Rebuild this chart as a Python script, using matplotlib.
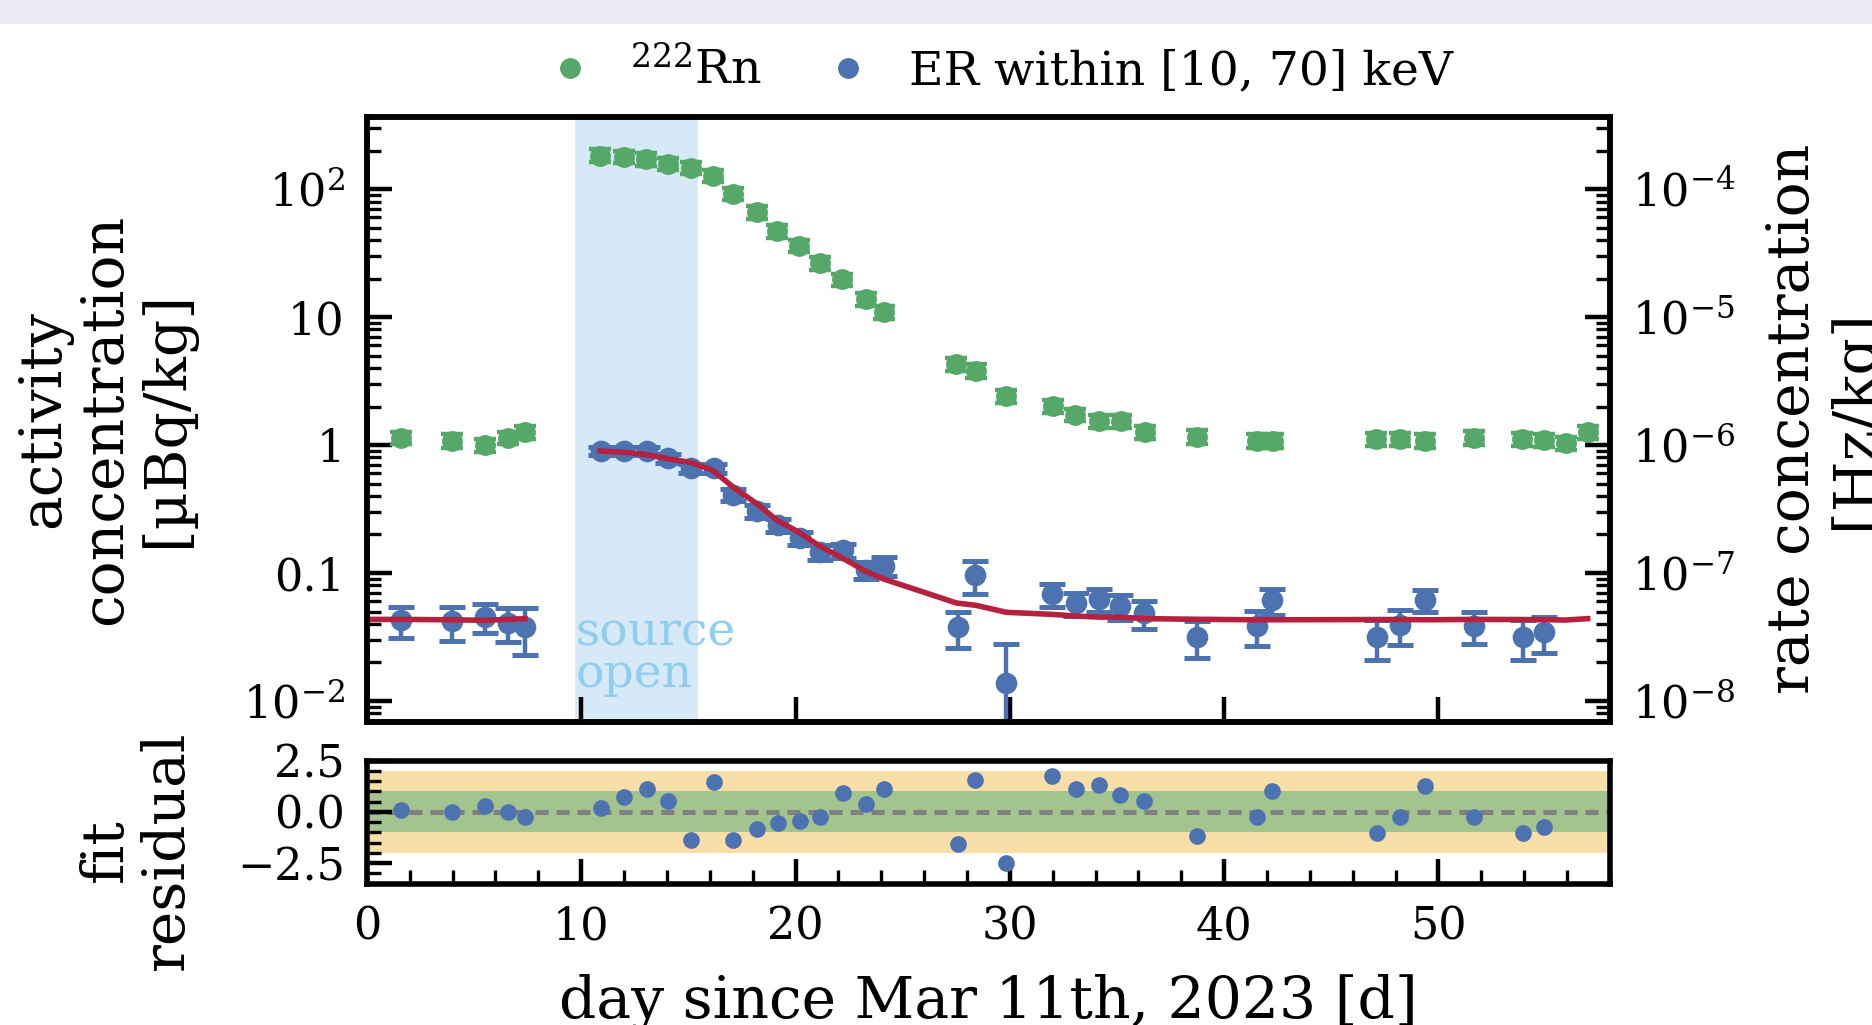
import matplotlib
matplotlib.use("Agg")
import numpy as np
import matplotlib.pyplot as plt
import matplotlib.transforms as mtransforms
from matplotlib.ticker import (FixedLocator, FixedFormatter, LogLocator, NullFormatter,
                               MultipleLocator, NullLocator)
from matplotlib.lines import Line2D
from matplotlib.patches import Rectangle

plt.rcParams['font.family'] = ['DejaVu Serif']
plt.rcParams['mathtext.fontset'] = 'dejavuserif'

# ---------------- data ----------------
rn_day = [1.61, 3.98, 5.50, 6.58, 7.38,
          10.88, 12.01, 13.03, 14.05, 15.14, 16.13, 17.10, 18.19, 19.14, 20.16, 21.13, 22.19, 23.28, 24.12,
          27.51, 28.42, 29.84,
          32.00, 33.06, 34.17, 35.18, 36.29,
          38.73,
          41.55, 42.29,
          47.08, 48.19, 49.39,
          51.64,
          53.91, 54.93, 55.94, 56.96]
rn_val = [1.14, 1.08, 1.00, 1.14, 1.27,
          183, 179, 171, 158, 147, 127, 91.6, 65.9, 46.8, 36.2, 26.4, 19.7, 13.9, 11.0,
          4.31, 3.81, 2.40,
          2.02, 1.73, 1.53, 1.53, 1.27,
          1.16,
          1.08, 1.08,
          1.12, 1.12, 1.08,
          1.14,
          1.12, 1.10, 1.04, 1.27]
rn_err = [0.13, 0.13, 0.12, 0.13, 0.15,
          21, 20, 19, 17, 16, 14, 10, 7.5, 5.3, 4.1, 3.0, 2.2, 1.6, 1.3,
          0.50, 0.45, 0.28,
          0.24, 0.20, 0.18, 0.18, 0.15,
          0.14,
          0.13, 0.13,
          0.13, 0.13, 0.13,
          0.14,
          0.13, 0.13, 0.12, 0.15]

er_day = [1.61, 3.98, 5.50, 6.58, 7.38,
          10.90, 12.00, 13.05, 14.05, 15.14, 16.20, 17.10, 18.19, 19.16, 20.19, 21.15, 22.22, 23.28, 24.12,
          27.56, 28.37, 29.84,
          31.97, 33.08, 34.16, 35.16, 36.27,
          38.73,
          41.51, 42.22,
          47.11, 48.20, 49.35,
          51.64,
          53.93, 54.93]
er_val = [0.0426, 0.0419, 0.0457, 0.0410, 0.0380,
          0.903, 0.903, 0.903, 0.790, 0.659, 0.659, 0.410, 0.306, 0.237, 0.188, 0.147, 0.150, 0.106, 0.114,
          0.0380, 0.0964, 0.0139,
          0.0684, 0.0578, 0.0622, 0.0550, 0.0485,
          0.0318,
          0.0387, 0.0612,
          0.0318, 0.0395, 0.0612,
          0.0387,
          0.0318, 0.0347]
er_err_hi = [0.0115, 0.0125, 0.0115, 0.0120, 0.0150,
             0.070, 0.070, 0.070, 0.060, 0.050, 0.050, 0.045, 0.035, 0.028, 0.022, 0.020, 0.020, 0.017, 0.020,
             0.012, 0.028, 0.0139,
             0.014, 0.012, 0.013, 0.012, 0.012,
             0.010,
             0.012, 0.014,
             0.011, 0.012, 0.012,
             0.011,
             0.011, 0.011]
er_err_lo = [0.0115, 0.0125, 0.0115, 0.0120, 0.0150,
             0.070, 0.070, 0.070, 0.060, 0.050, 0.050, 0.045, 0.035, 0.028, 0.022, 0.020, 0.020, 0.017, 0.020,
             0.012, 0.028, 0.01385,
             0.014, 0.012, 0.013, 0.012, 0.012,
             0.010,
             0.012, 0.014,
             0.011, 0.012, 0.012,
             0.011,
             0.011, 0.011]

res_val = [0.10, -0.03, 0.30, -0.03, -0.26,
           0.18, 0.70, 1.13, 0.51, -1.38, 1.44, -1.38, -0.85, -0.56, -0.43, -0.23, 0.92, 0.39, 1.11,
           -1.59, 1.54, -2.52,
           1.77, 1.11, 1.33, 0.82, 0.51,
           -1.18,
           -0.23, 1.03,
           -1.05, -0.23, 1.25,
           -0.23,
           -1.05, -0.75]

fit_day_a = [0.0, 1.61, 3.98, 5.50, 6.58, 7.38]
fit_val_a = [0.0434, 0.0434, 0.0431, 0.0427, 0.0434, 0.0440]
fit_day_b = [10.88, 12.01, 13.03, 14.05, 15.14, 16.13, 17.10, 18.19, 19.14, 20.16, 21.13, 22.19, 23.28, 24.12,
             27.51, 28.42, 29.84,
             32.00, 33.06, 34.17, 35.18, 36.29,
             38.73,
             41.55, 42.29,
             47.08, 48.19, 49.39,
             51.64,
             53.91, 54.93, 55.94, 56.96]
fit_val_b = [0.898, 0.879, 0.842, 0.781, 0.729, 0.635, 0.468, 0.348, 0.258, 0.208, 0.162, 0.131, 0.103, 0.0897,
             0.0583, 0.0559, 0.0493,
             0.0475, 0.0461, 0.0452, 0.0452, 0.0440,
             0.0435,
             0.0431, 0.0431,
             0.0433, 0.0433, 0.0431,
             0.0434,
             0.0433, 0.0432, 0.0429, 0.0440]

source_open = (9.7, 15.45)
main_yticks = [1e-2, 0.1, 1, 10, 100]
main_yticklabels = [r"$10^{-2}$", "0.1", "1", "10", r"$10^{2}$"]
res_yticks = [-2.5, 0.0, 2.5]
res_yticklabels = ["\u22122.5", "0.0", "2.5"]

GREEN = '#55A868'
BLUE = '#4C72B0'
RED = '#B5213F'

# ---------------- figure ----------------
fig = plt.figure(figsize=(9.36, 5.125), dpi=200)
fig.patches.append(Rectangle((0, 1 - 24 / 1025), 1, 24 / 1025, transform=fig.transFigure,
                             facecolor='#EAEAF2', edgecolor='none', zorder=0))

ax = fig.add_axes([0.196, 0.296, 0.664, 0.590])
axr = fig.add_axes([0.196, 0.138, 0.664, 0.120])

TS = 16
LS = 21

# main panel
ax.axvspan(*source_open, color='#D5EAF6', lw=0, zorder=0)
ax.errorbar(rn_day, rn_val, yerr=rn_err, fmt='o', color=GREEN, ms=6.5, capsize=4,
            elinewidth=1.5, capthick=1.6, zorder=2)
ax.errorbar(er_day, er_val, yerr=[er_err_lo, er_err_hi], fmt='o', color=BLUE, ms=6.8,
            capsize=4.7, elinewidth=1.6, capthick=1.8, zorder=2)
ax.plot(fit_day_a, fit_val_a, color=RED, lw=2, zorder=3)
ax.plot(fit_day_b, fit_val_b, color=RED, lw=2, zorder=3)

trans = mtransforms.blended_transform_factory(ax.transData, ax.transAxes)
ax.text(source_open[0] + 0.05, 0.04, "source\nopen", transform=trans, color='#90CDEE',
        fontsize=17, ha='left', va='bottom', linespacing=0.9, zorder=1)

ax.set_yscale('log')
ax.set_ylim(0.0069, 367)
ax.set_xlim(0, 58)
ax.yaxis.set_major_locator(FixedLocator(main_yticks))
ax.yaxis.set_major_formatter(FixedFormatter(main_yticklabels))
ax.yaxis.set_minor_locator(LogLocator(base=10, subs=np.arange(2, 10), numticks=20))
ax.yaxis.set_minor_formatter(NullFormatter())
ax.xaxis.set_major_locator(MultipleLocator(10))
ax.xaxis.set_minor_locator(NullLocator())
ax.tick_params(axis='both', which='major', direction='in', length=9, width=1.6,
               labelsize=TS, pad=8, top=False, right=False, labelbottom=False)
ax.tick_params(axis='both', which='minor', direction='in', length=5, width=1.2,
               top=False, right=False)
for s in ax.spines.values():
    s.set_linewidth(2.0)
ax.set_ylabel("activity\nconcentration\n[\u00b5Bq/kg]", fontsize=LS, linespacing=1.12)
ax.yaxis.set_label_coords(-0.138, 0.5)

ax2 = ax.twinx()
ax2.set_yscale('log')
ax2.set_ylim(0.0069e-6, 367e-6)
ax2.yaxis.set_major_locator(LogLocator(base=10, numticks=20))
ax2.yaxis.set_minor_locator(LogLocator(base=10, subs=np.arange(2, 10), numticks=20))
ax2.yaxis.set_minor_formatter(NullFormatter())
ax2.tick_params(axis='y', which='major', direction='in', length=9, width=1.6, labelsize=TS, pad=8)
ax2.tick_params(axis='y', which='minor', direction='in', length=5, width=1.2)
for s in ax2.spines.values():
    s.set_linewidth(2.0)
ax2.set_ylabel("rate concentration\n[Hz/kg]", fontsize=LS, linespacing=1.12)
ax2.yaxis.set_label_coords(1.125, 0.5)

# residual panel
axr.axhspan(-2, 2, color='#F8DFA8', lw=0, zorder=0)
axr.axhspan(-1, 1, color='#A3C48E', lw=0, zorder=0)
axr.axhline(0, color='#808080', ls=(0, (2.6, 1.6)), lw=1.8, zorder=1)
axr.plot(er_day, res_val, 'o', color=BLUE, ms=5, zorder=2)
axr.set_xlim(0, 58)
axr.set_ylim(-3.5, 2.5)
axr.yaxis.set_major_locator(FixedLocator(res_yticks))
axr.yaxis.set_major_formatter(FixedFormatter(res_yticklabels))
axr.yaxis.set_minor_locator(MultipleLocator(0.5))
axr.xaxis.set_major_locator(MultipleLocator(10))
axr.xaxis.set_minor_locator(MultipleLocator(2))
axr.tick_params(axis='both', which='major', direction='in', length=9, width=1.6,
                labelsize=TS, pad=8, top=False, right=False)
axr.tick_params(axis='both', which='minor', direction='in', length=5, width=1.2,
                top=False, right=False)
for s in axr.spines.values():
    s.set_linewidth(2.0)
axr.set_ylabel("fit\nresidual", fontsize=LS, linespacing=1.12)
axr.yaxis.set_label_coords(-0.138, 0.27)
axr.set_xlabel("day since Mar 11th, 2023 [d]", fontsize=LS, labelpad=9)

# legend
handles = [Line2D([], [], ls='none', marker='o', color=GREEN, ms=6.5),
           Line2D([], [], ls='none', marker='o', color=BLUE, ms=6.5)]
labels = [r"$^{222}$Rn", "ER within [10, 70] keV"]
fig.legend(handles, labels, loc='center', bbox_to_anchor=(0.534, 0.930), ncol=2, frameon=False,
           fontsize=17, handlelength=1.0, handletextpad=0.78, columnspacing=1.33,
           borderpad=0, borderaxespad=0)

fig.savefig("out.png", dpi=200)
